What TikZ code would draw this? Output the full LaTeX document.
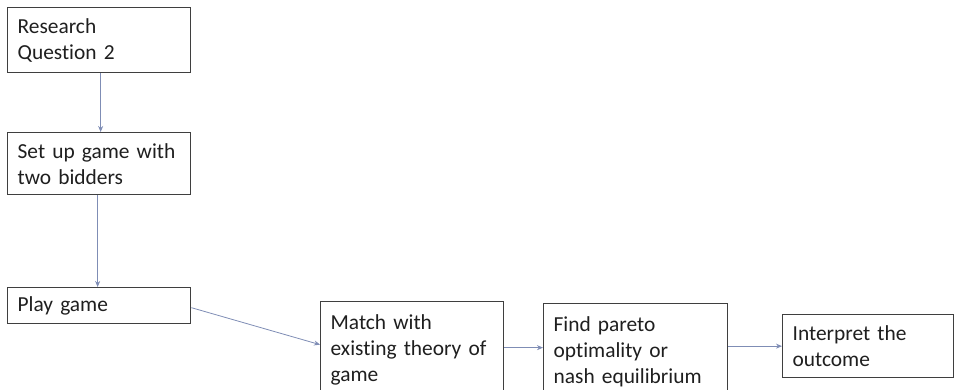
\documentclass[tikz,border=0pt]{standalone}
\usepackage{fontspec}
\setmainfont{Carlito}[Ligatures={NoCommon}, WordSpace=0.7]
\usetikzlibrary{arrows.meta}
\definecolor{boxline}{HTML}{3F3F3F}
\definecolor{flow}{HTML}{7F8DB5}
\definecolor{ink}{HTML}{1F1F1F}
\tikzset{
  stepbox/.style={draw=boxline, line width=1.3pt, fill=white, anchor=north west,
    inner xsep=10pt, inner ysep=0pt, align=left, text=ink,
    font=\fontsize{21.4}{26}\selectfont},
  flowline/.style={draw=flow, line width=0.8pt, -{Stealth[length=6pt,width=5pt]}}
}
\begin{document}
\begin{tikzpicture}[x=1pt, y=-1pt]
  \useasboundingbox (0,0) rectangle (956,390);
  \clip (0,0) rectangle (956,390);
  % left column
  \node[stepbox, text width=163pt, minimum height=65pt] (b1) at (7,7) {Research\\Question 2};
  \node[stepbox, text width=163pt, minimum height=62pt] (b2) at (7,132) {Set up game with\\two bidders};
  \node[stepbox, text width=163pt, minimum height=36pt] (b3) at (7,287) {Play game};
  % bottom row
  \node[stepbox, text width=163pt, minimum height=96pt] (b4) at (320,301) {Match with\\existing theory of\\game};
  \node[stepbox, text width=164pt, minimum height=96pt] (b5) at (543,303) {Find pareto\\optimality or\\nash equilibrium};
  \node[stepbox, text width=151pt, minimum height=63pt] (b6) at (782,314) {Interpret the\\outcome};
  % connectors
  \draw[flowline] ([xshift=1.5pt]b1.south) -- ([xshift=1.5pt]b1.south |- b2.north);
  \draw[flowline] ([xshift=-1.5pt]b2.south) -- ([xshift=-1.5pt]b2.south |- b3.north);
  \draw[flowline] ([yshift=-2pt]b3.east) -- ([yshift=5pt]b4.west);
  \draw[flowline] ([yshift=2pt]b4.east) -- ([yshift=2pt]b4.east -| b5.west);
  \draw[flowline] (b5.east |- b6.west) -- (b6.west);
\end{tikzpicture}
\end{document}
